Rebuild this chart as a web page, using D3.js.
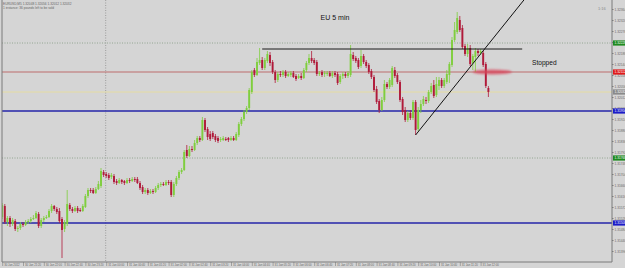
<!DOCTYPE html>
<html><head><meta charset="utf-8">
<script src="https://cdn.jsdelivr.net/npm/d3@7"></script>
<style>html,body{margin:0;padding:0;background:#d5d5d5;overflow:hidden}svg{display:block}</style>
</head><body><svg id="c" width="625" height="268"></svg>
<script>
// ---- data (EURUSD M5, bars 30 Jan 20:40 -> 31 Jan 12:15) ----
const open=[1.31532,1.31576,1.31512,1.31528,1.31504,1.31516,1.31484,1.31488,1.31504,1.31500,
1.31512,1.31516,1.31524,1.31528,1.31544,1.31496,1.31520,1.31528,1.31532,1.31556,
1.31576,1.31564,1.31556,1.31524,1.31484,1.31504,1.31580,1.31564,1.31556,1.31568,
1.31560,1.31556,1.31572,1.31616,1.31640,1.31640,1.31628,1.31644,1.31656,1.31712,
1.31704,1.31700,1.31692,1.31696,1.31676,1.31668,1.31680,1.31676,1.31668,1.31680,
1.31676,1.31684,1.31684,1.31668,1.31652,1.31632,1.31640,1.31628,1.31636,1.31632,
1.31648,1.31660,1.31664,1.31660,1.31672,1.31672,1.31620,1.31664,1.31688,1.31712,
1.31720,1.31800,1.31776,1.31804,1.31800,1.31828,1.31848,1.31840,1.31920,1.31884,
1.31864,1.31868,1.31856,1.31848,1.31840,1.31840,1.31844,1.31848,1.31840,1.31848,
1.31840,1.31860,1.31904,1.31924,1.31952,1.31968,1.32032,1.32120,1.32100,1.32148,
1.32160,1.32128,1.32156,1.32180,1.32152,1.32112,1.32080,1.32104,1.32100,1.32112,
1.32096,1.32100,1.32108,1.32096,1.32088,1.32096,1.32088,1.32120,1.32148,1.32168,
1.32160,1.32152,1.32104,1.32112,1.32104,1.32104,1.32108,1.32096,1.32108,1.32104,
1.32072,1.32096,1.32104,1.32096,1.32100,1.32180,1.32168,1.32160,1.32136,1.32176,
1.32152,1.32140,1.32116,1.32092,1.32044,1.31996,1.31960,1.32000,1.32064,1.32052,
1.32060,1.32120,1.32100,1.32072,1.32004,1.31960,1.31920,1.31948,1.31928,1.31992,
1.31884,1.31960,1.31984,1.32000,1.31996,1.32032,1.32060,1.32020,1.32056,1.32080,
1.32056,1.32072,1.32100,1.32140,1.32240,1.32272,1.32320,1.32288,1.32216,1.32184,
1.32208,1.32148,1.32172,1.32196,1.32188,1.32188,1.32144,1.32048];
const high=[1.31588,1.31584,1.31536,1.31536,1.31528,1.31524,1.31496,1.31512,1.31512,1.31520,
1.31524,1.31532,1.31540,1.31556,1.31552,1.31528,1.31536,1.31540,1.31564,1.31584,
1.31580,1.31572,1.31568,1.31532,1.31520,1.31640,1.31588,1.31572,1.31576,1.31576,
1.31568,1.31584,1.31624,1.31648,1.31648,1.31648,1.31652,1.31676,1.31728,1.31720,
1.31712,1.31708,1.31708,1.31704,1.31684,1.31688,1.31684,1.31680,1.31688,1.31688,
1.31692,1.31692,1.31692,1.31676,1.31660,1.31648,1.31648,1.31644,1.31644,1.31656,
1.31668,1.31672,1.31672,1.31680,1.31680,1.31680,1.31672,1.31696,1.31720,1.31728,
1.31800,1.31820,1.31816,1.31816,1.31840,1.31856,1.31856,1.31932,1.31928,1.31892,
1.31876,1.31876,1.31864,1.31856,1.31852,1.31856,1.31852,1.31852,1.31856,1.31856,
1.31872,1.31912,1.31932,1.31960,1.31976,1.32048,1.32120,1.32128,1.32168,1.32208,
1.32172,1.32168,1.32196,1.32192,1.32160,1.32120,1.32112,1.32116,1.32120,1.32120,
1.32112,1.32116,1.32116,1.32104,1.32104,1.32108,1.32128,1.32156,1.32184,1.32196,
1.32168,1.32160,1.32116,1.32120,1.32116,1.32116,1.32116,1.32116,1.32116,1.32112,
1.32104,1.32112,1.32112,1.32116,1.32220,1.32192,1.32176,1.32168,1.32200,1.32184,
1.32160,1.32148,1.32124,1.32100,1.32056,1.32004,1.32012,1.32080,1.32072,1.32088,
1.32136,1.32132,1.32108,1.32080,1.32012,1.31972,1.31956,1.31960,1.32000,1.32000,
1.31972,1.32000,1.32016,1.32012,1.32040,1.32068,1.32080,1.32092,1.32092,1.32088,
1.32088,1.32120,1.32152,1.32252,1.32312,1.32352,1.32336,1.32300,1.32224,1.32224,
1.32220,1.32184,1.32208,1.32204,1.32204,1.32196,1.32152,1.32056];
const low=[1.31524,1.31504,1.31496,1.31492,1.31496,1.31476,1.31472,1.31480,1.31492,1.31496,
1.31504,1.31508,1.31520,1.31524,1.31488,1.31488,1.31512,1.31524,1.31528,1.31548,
1.31556,1.31544,1.31508,1.31368,1.31472,1.31496,1.31556,1.31548,1.31552,1.31548,
1.31552,1.31552,1.31568,1.31608,1.31628,1.31624,1.31624,1.31640,1.31648,1.31692,
1.31688,1.31680,1.31684,1.31664,1.31660,1.31664,1.31664,1.31660,1.31664,1.31668,
1.31672,1.31672,1.31664,1.31640,1.31624,1.31624,1.31620,1.31624,1.31624,1.31628,
1.31640,1.31652,1.31656,1.31656,1.31660,1.31612,1.31612,1.31656,1.31680,1.31704,
1.31716,1.31768,1.31772,1.31792,1.31796,1.31820,1.31832,1.31836,1.31872,1.31840,
1.31836,1.31844,1.31832,1.31828,1.31832,1.31836,1.31836,1.31832,1.31836,1.31836,
1.31836,1.31852,1.31896,1.31916,1.31944,1.31960,1.32024,1.32092,1.32096,1.32140,
1.32120,1.32120,1.32148,1.32136,1.32104,1.32068,1.32072,1.32092,1.32092,1.32088,
1.32092,1.32092,1.32088,1.32076,1.32084,1.32080,1.32084,1.32112,1.32140,1.32148,
1.32140,1.32096,1.32096,1.32092,1.32092,1.32096,1.32092,1.32088,1.32092,1.32060,
1.32064,1.32084,1.32088,1.32088,1.32092,1.32156,1.32148,1.32124,1.32128,1.32144,
1.32128,1.32104,1.32084,1.32032,1.31984,1.31948,1.31956,1.31992,1.32044,1.32044,
1.32052,1.32088,1.32064,1.31992,1.31940,1.31912,1.31912,1.31920,1.31920,1.31860,
1.31876,1.31948,1.31976,1.31984,1.31988,1.32024,1.32008,1.32012,1.32040,1.32048,
1.32048,1.32064,1.32068,1.32132,1.32232,1.32264,1.32272,1.32204,1.32176,1.32172,
1.32136,1.32120,1.32112,1.32176,1.32180,1.32132,1.32048,1.32012];
const close=[1.31580,1.31512,1.31528,1.31504,1.31520,1.31484,1.31488,1.31504,1.31500,1.31512,
1.31516,1.31524,1.31528,1.31548,1.31496,1.31520,1.31528,1.31532,1.31556,1.31576,
1.31564,1.31552,1.31516,1.31480,1.31512,1.31584,1.31564,1.31556,1.31568,1.31556,
1.31556,1.31576,1.31616,1.31640,1.31636,1.31628,1.31644,1.31664,1.31716,1.31700,
1.31696,1.31688,1.31700,1.31672,1.31668,1.31680,1.31672,1.31668,1.31680,1.31676,
1.31684,1.31680,1.31668,1.31648,1.31632,1.31640,1.31628,1.31636,1.31632,1.31648,
1.31660,1.31664,1.31660,1.31672,1.31668,1.31620,1.31664,1.31688,1.31712,1.31720,
1.31792,1.31776,1.31804,1.31800,1.31828,1.31848,1.31840,1.31920,1.31880,1.31852,
1.31844,1.31852,1.31840,1.31836,1.31844,1.31848,1.31840,1.31840,1.31848,1.31840,
1.31864,1.31904,1.31924,1.31952,1.31968,1.32040,1.32112,1.32100,1.32152,1.32160,
1.32128,1.32160,1.32184,1.32148,1.32112,1.32080,1.32104,1.32100,1.32112,1.32096,
1.32104,1.32108,1.32092,1.32084,1.32096,1.32088,1.32120,1.32148,1.32168,1.32156,
1.32148,1.32104,1.32108,1.32100,1.32108,1.32108,1.32096,1.32108,1.32100,1.32068,
1.32096,1.32104,1.32096,1.32108,1.32184,1.32164,1.32156,1.32132,1.32176,1.32152,
1.32136,1.32112,1.32092,1.32040,1.31992,1.31960,1.32000,1.32064,1.32052,1.32080,
1.32128,1.32096,1.32072,1.32000,1.31952,1.31920,1.31948,1.31928,1.31992,1.31880,
1.31960,1.31984,1.32004,1.31996,1.32032,1.32056,1.32016,1.32064,1.32080,1.32056,
1.32080,1.32104,1.32144,1.32240,1.32280,1.32328,1.32280,1.32212,1.32184,1.32208,
1.32144,1.32176,1.32196,1.32188,1.32196,1.32140,1.32056,1.32032];

const timeLabelBars=[0,8,16,24,32,40,48,56,64,72,80,88,96,104,112,120,128,136,144,152,160,168,176,184];
const timeLabels=["30 Jan 2012","30 Jan 21:20","30 Jan 22:00","30 Jan 22:40","30 Jan 23:20",
"31 Jan 00:00","31 Jan 00:40","31 Jan 01:20","31 Jan 02:00","31 Jan 02:40","31 Jan 03:20",
"31 Jan 04:00","31 Jan 04:40","31 Jan 05:20","31 Jan 06:00","31 Jan 06:40","31 Jan 07:20",
"31 Jan 08:00","31 Jan 08:40","31 Jan 09:20","31 Jan 10:00","31 Jan 10:40","31 Jan 11:20","31 Jan 12:00"];
const priceTicks=[1.32364,1.32320,1.32276,1.32232,1.32188,1.32144,1.32100,1.32056,1.32012,1.31968,
1.31924,1.31880,1.31836,1.31792,1.31748,1.31704,1.31660,1.31616,1.31572,1.31528,1.31484,1.31440,1.31396];
const daySeparatorBar=40;

// horizontal levels
const levelNames=["dottedUpper","red","bid","blueUpper","dottedLower","blueLower"];
const levelPrices=[1.32228,1.32112,1.32032,1.31956,1.31768,1.31508];
const resistanceBars=[100,200];
const resistancePrice=1.32204;
const trendBars=[159,186];
const trendPrices=[1.31860,1.32210];
const stopBars=[181,196];

// ---- drawing ----
const svg=d3.select("#c");
const W=625,H=268,plotL=2,plotR=612,plotB=262;
const x=d3.scaleLinear().domain([0,234]).range([2.2,2.2+234*2.6]);
const y=d3.scaleLinear().domain([1.31352,1.32400]).range([plotB,0]);
const FONT="'Liberation Sans',Arial,sans-serif";

svg.append("rect").attr("width",W).attr("height",H).attr("fill","#d5d5d5");
const defs=svg.append("defs");
defs.append("clipPath").attr("id","plot").append("rect").attr("x",plotL).attr("y",0).attr("width",plotR-plotL).attr("height",plotB);
const blur=defs.append("filter").attr("id","blur").attr("x","-50%").attr("y","-200%").attr("width","200%").attr("height","500%");
blur.append("feGaussianBlur").attr("stdDeviation",1.3);

const plot=svg.append("g").attr("clip-path","url(#plot)");

// day separator
plot.append("line").attr("x1",x(daySeparatorBar)-0.5).attr("x2",x(daySeparatorBar)-0.5).attr("y1",0).attr("y2",plotB)
  .attr("stroke","#8e8e8e").attr("stroke-width",0.8).attr("stroke-dasharray","1,1.5");

const levelStyle={
  dottedUpper:{stroke:"#8ca08a",w:0.9,dash:"1,1.5",box:"#1f8a1f"},
  red:{stroke:"#b85454",w:0.8,dash:null,box:"#e01a1a"},
  bid:{stroke:"#e6dc9c",w:0.9,dash:null,box:"#8a8a8a"},
  blueUpper:{stroke:"#2424a8",w:1.3,dash:null,box:"#1c1cc8"},
  dottedLower:{stroke:"#8ca08a",w:0.9,dash:"1,1.5",box:"#1f8a1f"},
  blueLower:{stroke:"#2424a8",w:1.3,dash:null,box:"#1c1cc8"}
};
levelNames.forEach((n,i)=>{
  const s=levelStyle[n];
  plot.append("line").attr("x1",plotL).attr("x2",plotR).attr("y1",y(levelPrices[i])).attr("y2",y(levelPrices[i]))
    .attr("stroke",s.stroke).attr("stroke-width",s.w).attr("stroke-dasharray",s.dash);
});

// candles
const bars=d3.range(open.length);
const up="#7fce3e",dn="#b01a3a";
plot.append("g").selectAll("line").data(bars).join("line")
  .attr("x1",i=>x(i)).attr("x2",i=>x(i)).attr("y1",i=>y(high[i])).attr("y2",i=>y(low[i]))
  .attr("stroke",i=>close[i]>=open[i]?up:dn).attr("stroke-width",0.8);
plot.append("g").selectAll("rect").data(bars).join("rect")
  .attr("x",i=>x(i)-0.95).attr("width",1.9)
  .attr("y",i=>y(Math.max(open[i],close[i])))
  .attr("height",i=>Math.max(0.8,Math.abs(y(open[i])-y(close[i]))))
  .attr("fill",i=>close[i]>=open[i]?up:dn);

// resistance line
plot.append("line").attr("x1",x(resistanceBars[0])).attr("x2",x(resistanceBars[1]))
  .attr("y1",y(resistancePrice)).attr("y2",y(resistancePrice)).attr("stroke","#1a1a1a").attr("stroke-width",1);

// trend line (extended beyond second anchor)
const slope=(trendPrices[1]-trendPrices[0])/(trendBars[1]-trendBars[0]);
const endBar=trendBars[0]+(y.domain()[1]-trendPrices[0])/slope+2;
plot.append("line").attr("x1",x(trendBars[0])).attr("y1",y(trendPrices[0]))
  .attr("x2",x(endBar)).attr("y2",y(trendPrices[0]+slope*(endBar-trendBars[0])))
  .attr("stroke","#111").attr("stroke-width",1);

// stop smear
plot.append("ellipse").attr("cx",(x(stopBars[0])+x(stopBars[1]))/2).attr("cy",y(levelPrices[1]))
  .attr("rx",(x(stopBars[1])-x(stopBars[0]))/2).attr("ry",2.4)
  .attr("fill","#d8465c").attr("opacity",0.8).attr("filter","url(#blur)");

// frame
svg.append("line").attr("x1",plotL).attr("x2",plotL).attr("y1",0).attr("y2",plotB).attr("stroke","#7a7a7a").attr("stroke-width",1);
svg.append("line").attr("x1",plotR).attr("x2",plotR).attr("y1",0).attr("y2",plotB).attr("stroke","#7a7a7a").attr("stroke-width",1);
svg.append("line").attr("x1",plotL).attr("x2",plotR).attr("y1",plotB).attr("y2",plotB).attr("stroke","#7a7a7a").attr("stroke-width",1);

// right axis
const ya=svg.append("g").attr("transform",`translate(${plotR},0)`)
  .call(d3.axisRight(y).tickValues(priceTicks).tickSize(1.5).tickFormat(d3.format(".5f")));
ya.select(".domain").remove();
ya.selectAll("line").attr("stroke","#7a7a7a");
ya.selectAll("text").attr("x",2.5).attr("font-size",3.2).attr("font-family",FONT).attr("fill","#6a6a6a");

// level boxes
levelNames.forEach((n,i)=>{
  const s=levelStyle[n], yy=y(levelPrices[i]);
  svg.append("rect").attr("x",plotR+1).attr("y",yy-2.6).attr("width",W-plotR-1).attr("height",5.2).attr("fill",s.box);
  svg.append("text").attr("x",plotR+2.5).attr("y",yy).attr("dy","0.35em").attr("font-size",3.2)
    .attr("font-family",FONT).attr("fill","#fff").text(d3.format(".5f")(levelPrices[i]));
});

// bottom axis
const xa=svg.append("g").attr("transform",`translate(0,${plotB})`)
  .call(d3.axisBottom(x).tickValues(timeLabelBars).tickSize(4).tickFormat((d,i)=>timeLabels[i]));
xa.select(".domain").remove();
xa.selectAll("line").attr("stroke","#7a7a7a").attr("stroke-width",0.6);
xa.selectAll("text").attr("text-anchor","start").attr("x",1.5).attr("y",1.5).attr("dy","0.8em")
  .attr("font-size",2.8).attr("font-family",FONT).attr("fill","#666");

// texts
svg.append("text").attr("x",3).attr("y",4.5).attr("font-size",3.2).attr("font-family",FONT).attr("fill","#666")
  .text("EURUSD,M5  1.32048 1.32056 1.32012 1.32032");
svg.append("text").attr("x",3).attr("y",9).attr("font-size",3.2).attr("font-family",FONT).attr("fill","#666")
  .text("1 instance: 36 pounds left to be sold");
svg.append("text").attr("x",598).attr("y",9.5).attr("font-size",4).attr("font-family",FONT).attr("fill","#8a8a8a").text("1:16");
svg.append("text").attr("x",335).attr("y",19.5).attr("text-anchor","middle").attr("font-size",7).attr("font-family",FONT).attr("fill","#111").text("EU 5 min");
svg.append("text").attr("x",532).attr("y",65.3).attr("font-size",6.6).attr("font-family",FONT).attr("fill","#111").text("Stopped");
</script></body></html>
